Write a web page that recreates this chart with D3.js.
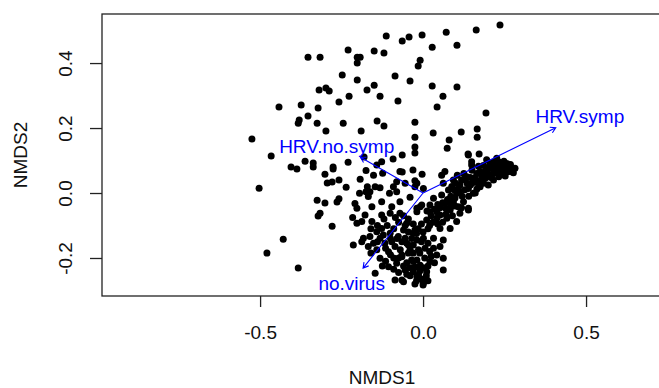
<!DOCTYPE html>
<html>
<head>
<meta charset="utf-8">
<script src="https://cdn.jsdelivr.net/npm/d3@7"></script>
<style>
  body { margin: 0; background: #fff; }
  svg text { font-family: "Liberation Sans", Arial, sans-serif; }
</style>
</head>
<body>
<div class="mySvg"></div>
<script>
// site scores (NMDS1, NMDS2)
const sitePoints = [
  [-0.353,0.418],[-0.316,0.418],[-0.230,0.440],[-0.202,0.418],[-0.193,0.418],[-0.202,0.400],[-0.150,0.437],[-0.120,0.431],
  [-0.113,0.483],[-0.064,0.468],[-0.043,0.480],[-0.003,0.486],[0.028,0.449],[0.071,0.495],[0.104,0.455],[0.163,0.502],
  [0.236,0.517],[-0.009,0.409],[-0.015,0.391],[-0.248,0.363],[-0.202,0.348],[-0.086,0.360],[-0.040,0.345],[0.028,0.329],
  [0.104,0.326],[-0.319,0.317],[-0.298,0.323],[-0.288,0.314],[-0.172,0.317],[-0.150,0.332],[-0.227,0.298],[-0.132,0.298],
  [-0.077,0.283],[0.061,0.298],[-0.258,0.280],[0.043,0.265],[-0.442,0.265],[-0.374,0.271],[-0.322,0.262],[0.193,0.246],
  [-0.353,0.237],[-0.380,0.225],[-0.383,0.215],[-0.325,0.215],[-0.245,0.215],[-0.141,0.222],[-0.120,0.206],[-0.025,0.218],
  [-0.298,0.191],[-0.190,0.191],[-0.025,0.172],[0.031,0.185],[0.117,0.188],[0.166,0.197],[0.166,0.172],[0.080,0.163],
  [0.074,0.138],[-0.025,0.142],[-0.025,0.123],[-0.064,0.117],[0.138,0.120],[0.172,0.120],[-0.003,0.058],[-0.064,0.065],
  [-0.525,0.166],[-0.466,0.114],[-0.503,0.015],[-0.429,-0.142],[-0.479,-0.185],[-0.383,-0.231],[-0.405,0.080],[-0.387,0.074],
  [-0.362,0.098],[-0.337,0.092],[-0.337,0.080],[-0.301,0.058],[-0.276,0.080],[-0.276,0.074],[-0.230,0.095],[-0.294,0.031],
  [-0.279,0.034],[-0.258,0.040],[-0.236,0.018],[-0.325,-0.022],[-0.301,-0.031],[-0.258,-0.018],[-0.264,-0.028],[-0.316,-0.062],
  [-0.322,-0.071],[-0.279,-0.102],
  [-0.181,0.111],[-0.127,0.096],[-0.092,0.105],[-0.031,0.071],[-0.175,0.069],[-0.152,0.055],[-0.124,0.061],[-0.071,0.066],
  [-0.193,0.042],[-0.171,0.019],[-0.163,0.004],[-0.147,0.019],[-0.132,0.016],[-0.175,0.004],[-0.195,-0.001],[-0.168,-0.011],
  [-0.091,0.019],[-0.103,-0.001],[-0.081,0.004],[-0.055,0.030],[-0.025,0.038],[-0.209,-0.032],[-0.203,-0.047],[-0.157,-0.042],
  [-0.127,-0.027],[-0.096,-0.042],[-0.071,-0.027],[-0.040,-0.013],[-0.019,-0.047],[-0.142,0.086],[-0.081,0.035],[-0.025,0.019],
  [-0.216,-0.075],[-0.203,-0.093],[-0.188,-0.088],[-0.178,-0.068],[-0.157,-0.088],[-0.127,-0.068],[-0.101,-0.062],[-0.071,-0.062],
  [-0.183,-0.139],[-0.188,-0.150],[-0.163,-0.134],[-0.142,-0.119],[-0.127,-0.109],[-0.122,-0.129],[-0.101,-0.124],[-0.132,-0.139],
  [-0.152,-0.155],[-0.117,-0.155],[-0.214,-0.160],[-0.168,-0.165],[-0.142,-0.175],[-0.106,-0.181],[-0.086,-0.165],[-0.096,-0.150],
  [-0.076,-0.134],[-0.065,-0.150],[-0.132,-0.201],[-0.106,-0.227],[-0.081,-0.216],[-0.065,-0.196],[-0.055,-0.237],[-0.035,-0.206],
  [-0.040,-0.175],[-0.050,-0.155],[-0.030,-0.242],[-0.019,-0.258],[-0.086,-0.268],[-0.065,-0.268],[-0.147,-0.247],[-0.060,-0.114],
  [-0.050,-0.093],[-0.030,-0.124],[-0.019,-0.145],[-0.014,-0.175],[-0.019,-0.206],
  [-0.009,-0.042],[0.021,-0.058],[0.052,-0.045],[0.083,-0.047],[0.108,-0.042],[0.139,-0.047],[0.011,-0.083],[0.042,-0.078],
  [0.073,-0.078],[0.103,-0.088],[0.083,-0.109],[0.052,-0.109],[-0.025,-0.114],[-0.055,-0.139],[0.001,-0.139],[0.032,-0.139],
  [0.062,-0.145],[0.052,-0.165],[0.006,-0.170],[0.032,-0.170],[-0.045,-0.160],[-0.065,-0.191],[-0.030,-0.211],[0.042,-0.191],
  [0.062,-0.201],[0.021,-0.211],[-0.009,-0.222],[0.011,-0.242],[-0.014,-0.252],[0.006,-0.268],[-0.060,-0.273],[0.062,-0.237],
  [0.001,-0.278],[0.000,-0.283],
  [0.139,0.117],[-0.019,0.030],[0.001,0.014],[0.057,0.055],[0.067,0.066],[0.149,0.086],[0.149,0.096],[0.195,0.102],
  [0.226,0.107],[0.257,0.091],[0.282,0.076],[0.267,0.066],[0.236,0.061],[0.206,0.076],[0.175,0.066],[0.190,0.045],
  [0.216,0.040],[0.160,0.035],[0.134,0.050],[0.113,0.025],[0.139,0.014],[0.175,0.019],[0.154,-0.001],[0.093,0.040],
  [0.078,0.009],[0.062,0.030],[0.103,-0.001],[0.124,-0.027],[0.093,-0.027],[0.057,-0.006],[0.067,-0.032],[0.032,-0.016],
  [0.021,-0.037],[-0.004,-0.037],[-0.019,-0.058],[0.042,-0.058],[0.083,-0.052],[0.139,-0.052],[0.113,-0.062],[0.052,-0.068],
  [0.240,0.085],[0.250,0.075],[0.262,0.080],[0.272,0.072],[0.228,0.090],[0.215,0.095],[0.205,0.090],[0.198,0.060],
  [0.212,0.058],[0.225,0.070],[0.245,0.058],[0.258,0.065],[0.232,0.050],[0.185,0.085],[0.170,0.082],[0.180,0.055],
  [0.165,0.060],[0.150,0.070],[0.145,0.048],[0.125,0.060],[0.118,0.040],[0.105,0.055],[0.100,0.030],[0.088,0.020],
  [0.128,0.010],[0.145,0.025],[0.165,0.012],[0.120,-0.010],[0.108,0.012],[0.085,-0.010],[0.075,-0.020],[0.098,-0.040],
  [0.070,-0.048],[0.060,-0.030],[0.045,-0.035],[0.035,-0.050],[0.025,-0.070],[0.012,-0.055],[0.030,-0.090],[0.060,-0.090],
  [0.090,-0.070],[0.118,-0.045],[0.160,0.000],[0.185,0.030],[0.200,0.025],[0.195,0.078],[0.222,0.082],[0.268,0.088],
  [0.277,0.062],[0.252,0.052],
  [0.255,0.082],[0.265,0.074],[0.275,0.068],[0.243,0.070],[0.235,0.078],[0.220,0.062],[0.208,0.048],[0.190,0.065],
  [0.178,0.040],[0.160,0.048],[0.150,0.030],[0.135,0.030],[0.128,0.045],[0.112,0.005],[0.095,0.010],[0.082,-0.030],
  [0.070,-0.065],[0.045,-0.095],[0.020,-0.100],[0.098,-0.015],[0.140,-0.010],[0.170,0.028],[0.235,0.095],[0.248,0.098],
  [-0.110,-0.100],[-0.090,-0.110],[-0.075,-0.090],[-0.060,-0.070],[-0.045,-0.080],[-0.030,-0.095],[-0.015,-0.110],[0.000,-0.120],
  [0.015,-0.110],[-0.005,-0.095],[-0.045,-0.120],[-0.080,-0.140],[-0.100,-0.190],[-0.075,-0.200],[-0.050,-0.215],[-0.040,-0.230],
  [-0.025,-0.228],[-0.010,-0.240],[0.015,-0.225],[0.025,-0.195],[0.035,-0.215],[0.005,-0.200],[-0.045,-0.185],[-0.070,-0.175],
  [-0.010,-0.185],[0.015,-0.155],[-0.030,-0.160],[-0.005,-0.265],[-0.020,-0.270],[0.010,-0.255],[-0.040,-0.255],[-0.075,-0.245],
  [-0.115,-0.210],[-0.090,-0.235],
  [-0.120,-0.080],[-0.140,-0.100],[-0.160,-0.110],[-0.100,-0.140],[-0.115,-0.170],[-0.090,-0.200],[-0.060,-0.225],[-0.030,-0.185],
  [-0.020,-0.125],[-0.005,-0.150],[-0.035,-0.140],[-0.055,-0.100],[-0.085,-0.075],[0.000,-0.230],[0.020,-0.180],[-0.050,-0.250],
  [-0.025,-0.280],[0.015,-0.270],[-0.140,-0.150],[-0.160,-0.185],[-0.125,-0.225]
];

// fitted vectors (envfit arrows) and label spots
const vectorNames = ['HRV.symp', 'HRV.no.symp', 'no.virus'];
const vectorNMDS1 = [0.407, -0.192, -0.184];
const vectorNMDS2 = [0.201, 0.110, -0.231];
const labelNMDS1 = [0.481, -0.265, -0.219];
const labelNMDS2 = [0.234, 0.142, -0.278];

const xTicks = [-0.5, 0.0, 0.5];
const yTicks = [-0.2, 0.0, 0.2, 0.4];

const W = 659, H = 388;
const margin = {top: 14, right: -3, bottom: 92, left: 102};
const innerW = W - margin.left - margin.right;
const innerH = H - margin.top - margin.bottom;

const xScale = d3.scaleLinear().domain([-0.985, 0.733]).range([0, innerW]);
const yScale = d3.scaleLinear().domain([-0.317, 0.551]).range([innerH, 0]);
// R prints a plain hyphen as the minus sign
const fmt = v => d3.format('.1f')(v).replace('\u2212', '-');

const svg = d3.select('.mySvg').append('svg')
  .attr('width', W).attr('height', H);

const g = svg.append('g')
  .attr('transform', 'translate(' + margin.left + ',' + margin.top + ')');

// points
g.selectAll('.site')
  .data(sitePoints)
  .enter()
  .append('circle')
  .attr('class', 'site')
  .attr('cx', d => xScale(d[0]))
  .attr('cy', d => yScale(d[1]))
  .attr('r', 3.5)
  .attr('fill', '#000');

// arrows
const blue = '#0000ff';
const headLen = 6, headAng = Math.PI / 6;
vectorNames.forEach((name, i) => {
  const x0 = xScale(0), y0 = yScale(0);
  const x1 = xScale(vectorNMDS1[i]), y1 = yScale(vectorNMDS2[i]);
  const a = Math.atan2(y1 - y0, x1 - x0);
  const p = d3.path();
  p.moveTo(x0, y0); p.lineTo(x1, y1);
  p.moveTo(x1 - headLen * Math.cos(a - headAng), y1 - headLen * Math.sin(a - headAng));
  p.lineTo(x1, y1);
  p.lineTo(x1 - headLen * Math.cos(a + headAng), y1 - headLen * Math.sin(a + headAng));
  g.append('path').attr('d', p.toString())
    .attr('fill', 'none').attr('stroke', blue).attr('stroke-width', 1.1);
  g.append('text')
    .attr('x', xScale(labelNMDS1[i]))
    .attr('y', yScale(labelNMDS2[i]))
    .attr('text-anchor', 'middle')
    .attr('dominant-baseline', 'central')
    .attr('fill', blue)
    .style('font-size', '19px')
    .text(name);
});

// box
g.append('rect')
  .attr('x', 0).attr('y', 0)
  .attr('width', innerW).attr('height', innerH)
  .attr('fill', 'none').attr('stroke', '#222').attr('stroke-width', 1.3);

// axes
const xAxis = d3.axisBottom(xScale).tickValues(xTicks).tickFormat(fmt).tickSize(11);
const yAxis = d3.axisLeft(yScale).tickValues(yTicks).tickFormat(fmt).tickSize(12);

const gx = g.append('g').attr('transform', 'translate(0,' + innerH + ')').call(xAxis);
gx.select('.domain').remove();
gx.selectAll('line').attr('stroke', '#222').attr('stroke-width', 1.3);
gx.selectAll('text').attr('fill', '#111').style('font-size', '19px')
  .attr('dy', null).attr('y', 43);

const gy = g.append('g').call(yAxis);
gy.select('.domain').remove();
gy.selectAll('line').attr('stroke', '#222').attr('stroke-width', 1.3);
gy.selectAll('text')
  .attr('fill', '#111').style('font-size', '19px')
  .attr('x', null).attr('dy', null)
  .attr('text-anchor', 'middle')
  .attr('transform', 'translate(-30,0) rotate(-90)');

// axis titles
svg.append('text')
  .attr('x', margin.left + innerW / 2).attr('y', 384)
  .attr('text-anchor', 'middle').attr('fill', '#111')
  .style('font-size', '19px').text('NMDS1');

svg.append('text')
  .attr('transform', 'translate(27,' + (margin.top + innerH / 2) + ') rotate(-90)')
  .attr('text-anchor', 'middle').attr('fill', '#111')
  .style('font-size', '19px').text('NMDS2');
</script>
</body>
</html>
